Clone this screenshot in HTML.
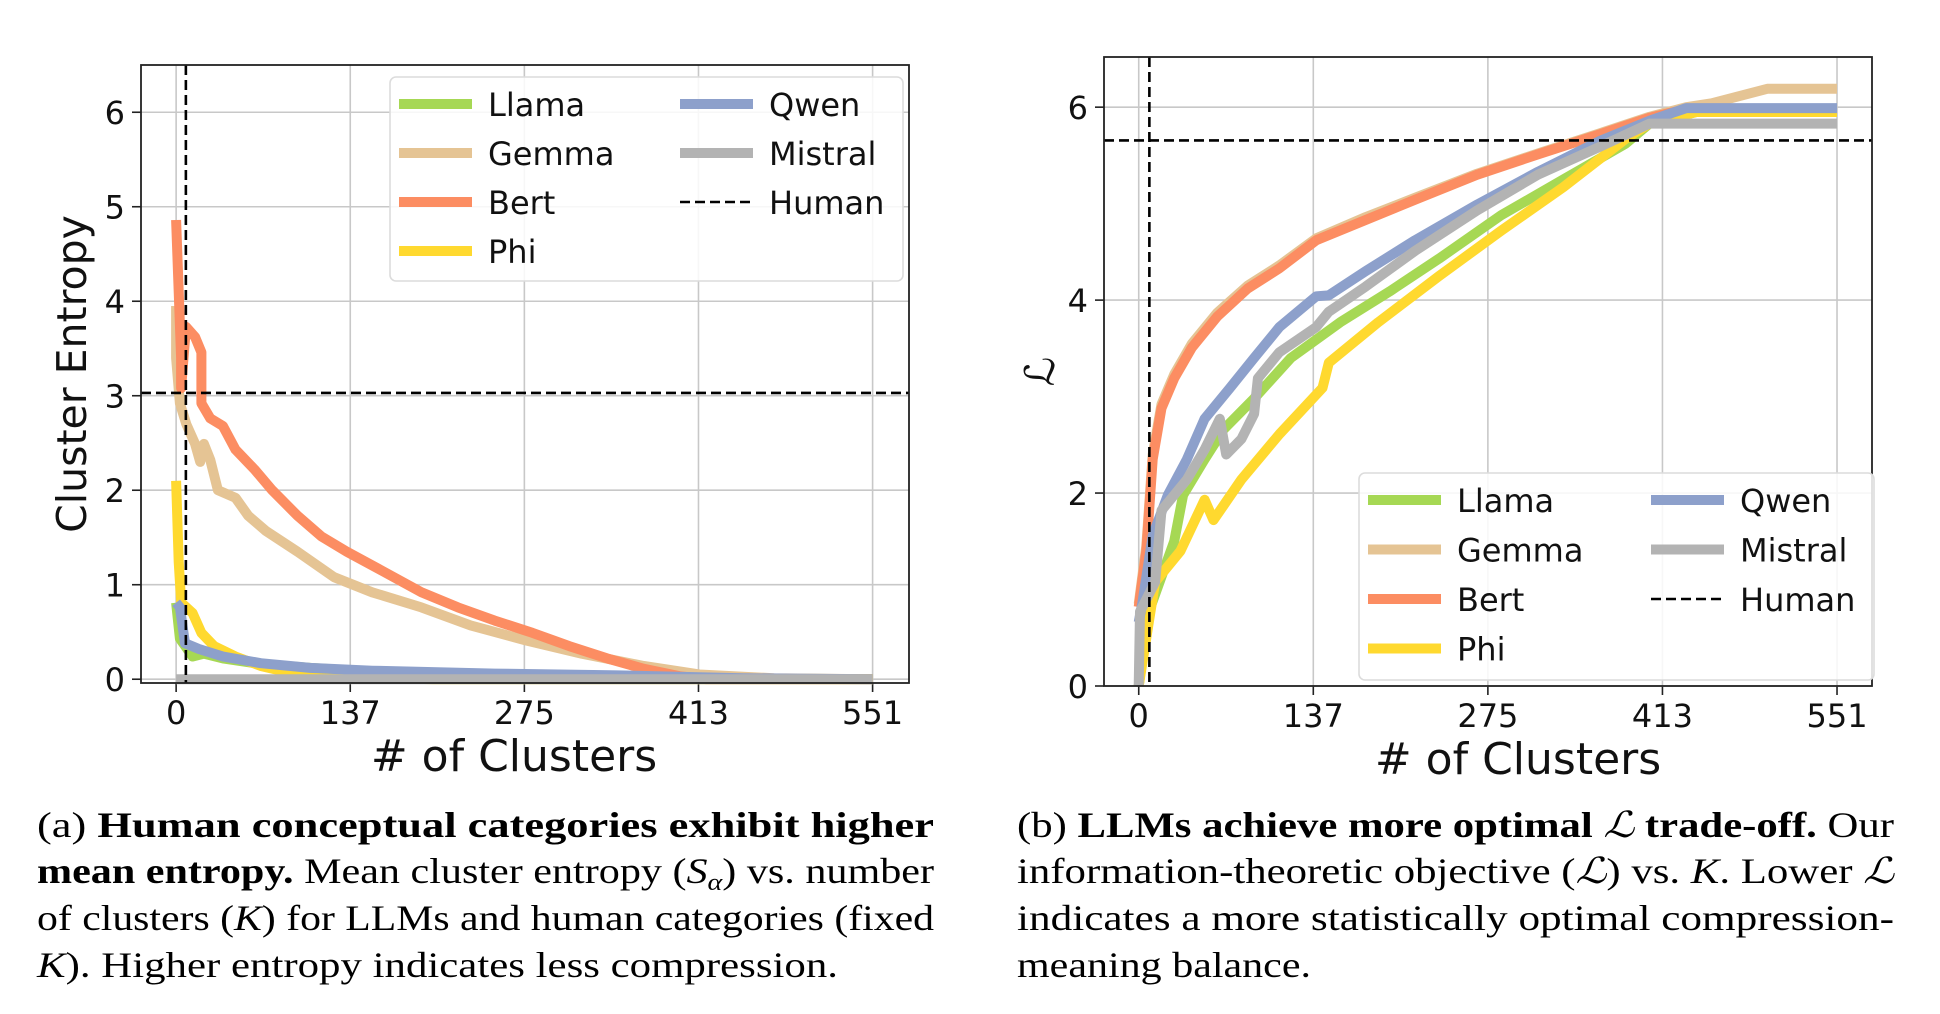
<!DOCTYPE html>
<html><head><meta charset="utf-8"><style>
html,body{margin:0;padding:0;background:#fff;}
svg{display:block;}
.tk{font-family:"DejaVu Sans","Liberation Sans",sans-serif;font-size:32px;fill:#111;}
.ttl{font-family:"DejaVu Sans","Liberation Sans",sans-serif;font-size:44px;fill:#111;}
.ytl{font-family:"DejaVu Sans","Liberation Sans",sans-serif;font-size:41px;fill:#111;}
.lg{font-family:"DejaVu Sans","Liberation Sans",sans-serif;font-size:32px;fill:#111;}
.cap{font-family:"Liberation Serif",serif;font-size:36px;fill:#000;}
</style></head><body>
<svg id="fig" width="1940" height="1014" viewBox="0 0 1940 1014" xmlns="http://www.w3.org/2000/svg">
<g id="chartA"></g>
<g id="chartB"></g>
<text class="cap" x="37" y="837" textLength="897" lengthAdjust="spacingAndGlyphs">(a) <tspan font-weight="bold">Human conceptual categories exhibit higher</tspan></text>
<text class="cap" x="37" y="883" textLength="897" lengthAdjust="spacingAndGlyphs"><tspan font-weight="bold">mean entropy.</tspan> Mean cluster entropy (<tspan font-style="italic">S</tspan><tspan font-size="24" font-style="italic" dy="7">α</tspan><tspan dy="-7">) vs. number</tspan></text>
<text class="cap" x="37" y="930" textLength="897" lengthAdjust="spacingAndGlyphs">of clusters (<tspan font-style="italic">K</tspan>) for LLMs and human categories (fixed</text>
<text class="cap" x="37" y="977" textLength="801" lengthAdjust="spacingAndGlyphs"><tspan font-style="italic">K</tspan>). Higher entropy indicates less compression.</text>
<text class="cap" x="1017" y="837" textLength="877" lengthAdjust="spacingAndGlyphs">(b) <tspan font-weight="bold">LLMs achieve more optimal </tspan><tspan font-style="italic">ℒ</tspan><tspan font-weight="bold"> trade-off.</tspan> Our</text>
<text class="cap" x="1017" y="883" textLength="877" lengthAdjust="spacingAndGlyphs">information-theoretic objective (<tspan font-style="italic">ℒ</tspan>) vs. <tspan font-style="italic">K</tspan>. Lower <tspan font-style="italic">ℒ</tspan></text>
<text class="cap" x="1017" y="930" textLength="877" lengthAdjust="spacingAndGlyphs">indicates a more statistically optimal compression-</text>
<text class="cap" x="1017" y="977" textLength="294" lengthAdjust="spacingAndGlyphs">meaning balance.</text>
</svg>
<script>
const seriesNames = ["Llama","Gemma","Bert","Phi","Qwen","Mistral"];
const seriesColors = ["#a6d854","#e5c494","#fc8d62","#ffd92f","#8da0cb","#b3b3b3"];
const xTickLabels = [0,137,275,413,551];
const xTickValues = [0,137.75,275.5,413.25,551];
const yTicksA = [0,1,2,3,4,5,6];
const yTicksB = [0,2,4,6];
const humanKA = 7.7, humanEntropy = 3.03;
const humanKB = 8.4, humanObjective = 5.655;

// Chart A: cluster entropy
const aLlamaX = [0,3,13,22,37,67,106,155,252,399,551];
const aLlamaY = [0.81,0.43,0.24,0.27,0.22,0.16,0.12,0.08,0.04,0.01,0];
const aGemmaX = [0,0,3,8,15,19,22,27,33,47,57,71,96,125,155,194,233,277,321,370,414,473,551];
const aGemmaY = [3.95,3.4,2.92,2.7,2.49,2.3,2.49,2.32,2.0,1.92,1.73,1.57,1.35,1.08,0.92,0.76,0.57,0.41,0.27,0.14,0.05,0.01,0];
const aBertX = [0,3.9,3.9,7.8,15,20,20,27,37,47,62,76,96,115,135,164,194,223,252,282,311,341,370,399,419,551];
const aBertY = [4.86,3.4,3.08,3.73,3.62,3.46,2.92,2.76,2.68,2.43,2.22,2.0,1.73,1.51,1.35,1.14,0.92,0.76,0.62,0.49,0.35,0.22,0.11,0.03,0,0];
const aPhiX = [0,2,4,13,20,30,47,67,96,135,204,551];
const aPhiY = [2.1,1.24,0.81,0.7,0.49,0.35,0.24,0.14,0.05,0.02,0,0];
const aQwenX = [0,3,7,18,37,67,106,155,252,350,448,551];
const aQwenY = [0.81,0.76,0.38,0.32,0.24,0.17,0.12,0.09,0.06,0.04,0.01,0];
const aMistralX = [0,551];
const aMistralY = [0,0];

// Chart B: objective L
const bLlamaX = [0,8,28,35,52,67,91,120,159,198,237,286,335,384,403,440,551];
const bLlamaY = [0,0.77,1.5,1.98,2.35,2.66,2.98,3.4,3.77,4.09,4.43,4.88,5.25,5.62,5.83,5.95,5.95];
const bGemmaX = [0,6,11,18,28,42,62,86,111,140,179,218,267,315,364,403,432,452,496,551];
const bGemmaY = [0.85,1.45,2.4,2.92,3.23,3.55,3.87,4.15,4.36,4.64,4.86,5.06,5.31,5.52,5.73,5.9,6.0,6.04,6.19,6.19];
const bBertX = [0,6,11,18,28,42,62,86,111,140,179,218,267,315,364,403,432,551];
const bBertY = [0.82,1.4,2.35,2.88,3.19,3.51,3.83,4.12,4.33,4.62,4.83,5.04,5.3,5.51,5.72,5.89,5.98,5.98];
const bPhiX = [0,13,33,52,59,81,111,145,150,189,237,286,335,384,403,440,551];
const bPhiY = [0,1.08,1.4,1.93,1.72,2.14,2.61,3.09,3.35,3.77,4.25,4.72,5.17,5.67,5.83,5.95,5.95];
const bQwenX = [0,3,11,23,38,52,72,91,111,140,150,179,218,267,315,364,403,432,551];
const bQwenY = [0.66,0.87,1.56,1.98,2.35,2.77,3.09,3.4,3.72,4.04,4.05,4.3,4.62,4.99,5.33,5.65,5.86,5.99,5.99];
const bMistralX = [0,1,13,18,28,38,52,64,69,81,91,94,111,140,150,179,218,267,315,364,403,551];
const bMistralY = [0,0.77,1.08,1.82,1.98,2.14,2.45,2.77,2.4,2.56,2.82,3.19,3.46,3.72,3.88,4.14,4.51,4.93,5.3,5.59,5.83,5.83];

const NS = "http://www.w3.org/2000/svg";
function mk(parent, tag, attrs, text){
  const e = document.createElementNS(NS, tag);
  for (const k in attrs) e.setAttribute(k, attrs[k]);
  if (text !== undefined) e.textContent = text;
  parent.appendChild(e);
  return e;
}

function drawChart(g, cfg){
  const sx = v => cfg.px0 + (v - cfg.xmin) / (cfg.xmax - cfg.xmin) * (cfg.px1 - cfg.px0);
  const sy = v => cfg.py1 - (v - cfg.ymin) / (cfg.ymax - cfg.ymin) * (cfg.py1 - cfg.py0);
  xTickValues.forEach((v,i) => {
    const l = mk(g,'line',{x1:sx(v),x2:sx(v),y1:cfg.py0,y2:cfg.py1,stroke:'#c8c8c8','stroke-width':1.6});
    
    
    const t = mk(g,'line',{x1:sx(v),x2:sx(v),y1:cfg.py1,y2:cfg.py1+9,stroke:'#222','stroke-width':1.6});
    
    
    const tx = mk(g,'text',{x:sx(v),y:cfg.py1+41,'text-anchor':'middle','class':'tk'}, String(xTickLabels[i]));
    
    
  });
  cfg.yticks.forEach(v => {
    const l = mk(g,'line',{x1:cfg.px0,x2:cfg.px1,y1:sy(v),y2:sy(v),stroke:'#c8c8c8','stroke-width':1.6});
    
    
    const t = mk(g,'line',{x1:cfg.px0-9,x2:cfg.px0,y1:sy(v),y2:sy(v),stroke:'#222','stroke-width':1.6});
    
    
    const tx = mk(g,'text',{x:cfg.px0-16,y:sy(v)+12,'text-anchor':'end','class':'tk'}, String(v));
    
    
  });
  cfg.series.forEach((s,i) => {
    const d = s[0].map((x,j) => (j?'L':'M') + sx(x).toFixed(1) + ',' + sy(s[1][j]).toFixed(1)).join(' ');
    const p = mk(g,'path',{d:d,fill:'none',stroke:seriesColors[i],'stroke-width':10,'stroke-linejoin':'round'});
    
    
  });
  const hv = mk(g,'line',{x1:sx(cfg.hx),x2:sx(cfg.hx),y1:cfg.py0,y2:cfg.py1,stroke:'#000','stroke-width':2.6,'stroke-dasharray':'10,5'});
  
  
  const hh = mk(g,'line',{x1:cfg.px0,x2:cfg.px1,y1:sy(cfg.hy),y2:sy(cfg.hy),stroke:'#000','stroke-width':2.6,'stroke-dasharray':'10,5'});
  
  
  const fr = mk(g,'rect',{x:cfg.px0,y:cfg.py0,width:cfg.px1-cfg.px0,height:cfg.py1-cfg.py0,fill:'none',stroke:'#222','stroke-width':1.8});
  
  
  const xt = mk(g,'text',{x:cfg.xtx,y:cfg.py1+88,'text-anchor':'middle','class':'ttl'},'# of Clusters');
  
  
  const yc = (cfg.py0+cfg.py1)/2;
  const yt = mk(g,'text',{x:cfg.ytx,y:yc,'text-anchor':'middle','class':'ytl',transform:'rotate(-90 '+cfg.ytx+' '+yc+')','font-style':cfg.yital?'italic':'normal'}, cfg.ytitle);
  
  
  const L = cfg.legend;
  const lb = mk(g,'rect',{x:L.x,y:L.y,width:L.w,height:L.h,rx:6,fill:'#fff','fill-opacity':0.85,stroke:'#dcdcdc','stroke-width':1.6});
  
  
  const entries = seriesNames.map((n,i)=>({n:n,c:seriesColors[i],dash:false})).concat([{n:'Human',c:'#000',dash:true}]);
  entries.forEach((e,i) => {
    const col = i < 4 ? 0 : 1, row = i < 4 ? i : i - 4;
    const x0 = L.x + 9 + col*L.colw, y0 = L.y + L.r0 + row*L.rs;
    const ln = mk(g,'line',{x1:x0,x2:x0+73,y1:y0,y2:y0,stroke:e.c,'stroke-width':e.dash?2.6:10,'stroke-dasharray':e.dash?'10,5':'none'});
    
    
    const tx = mk(g,'text',{x:x0+89,y:y0+12,'class':'lg'}, e.n);
    
    
  });
}

drawChart(document.getElementById('chartA'), {
  px0:141, px1:909, py0:65, py1:683, xmin:-27.8, xmax:579.8, ymin:-0.04, ymax:6.5,
  yticks:yTicksA, hx:humanKA, hy:humanEntropy, ytitle:'Cluster Entropy', ytx:86, yital:false, xtx:514,
  series:[[aLlamaX,aLlamaY],[aGemmaX,aGemmaY],[aBertX,aBertY],[aPhiX,aPhiY],[aQwenX,aQwenY],[aMistralX,aMistralY]],
  legend:{x:390,y:77,w:513,h:204,colw:281,r0:27,rs:49}
});
drawChart(document.getElementById('chartB'), {
  px0:1104, px1:1872, py0:57, py1:686, xmin:-27.4, xmax:578.6, ymin:0, ymax:6.52,
  yticks:yTicksB, hx:humanKB, hy:humanObjective, ytitle:'ℒ', ytx:1054, yital:true, xtx:1518,
  series:[[bLlamaX,bLlamaY],[bGemmaX,bGemmaY],[bBertX,bBertY],[bPhiX,bPhiY],[bQwenX,bQwenY],[bMistralX,bMistralY]],
  legend:{x:1359,y:473,w:515,h:207,colw:283,r0:27,rs:49.5}
});
</script>
</body></html>
